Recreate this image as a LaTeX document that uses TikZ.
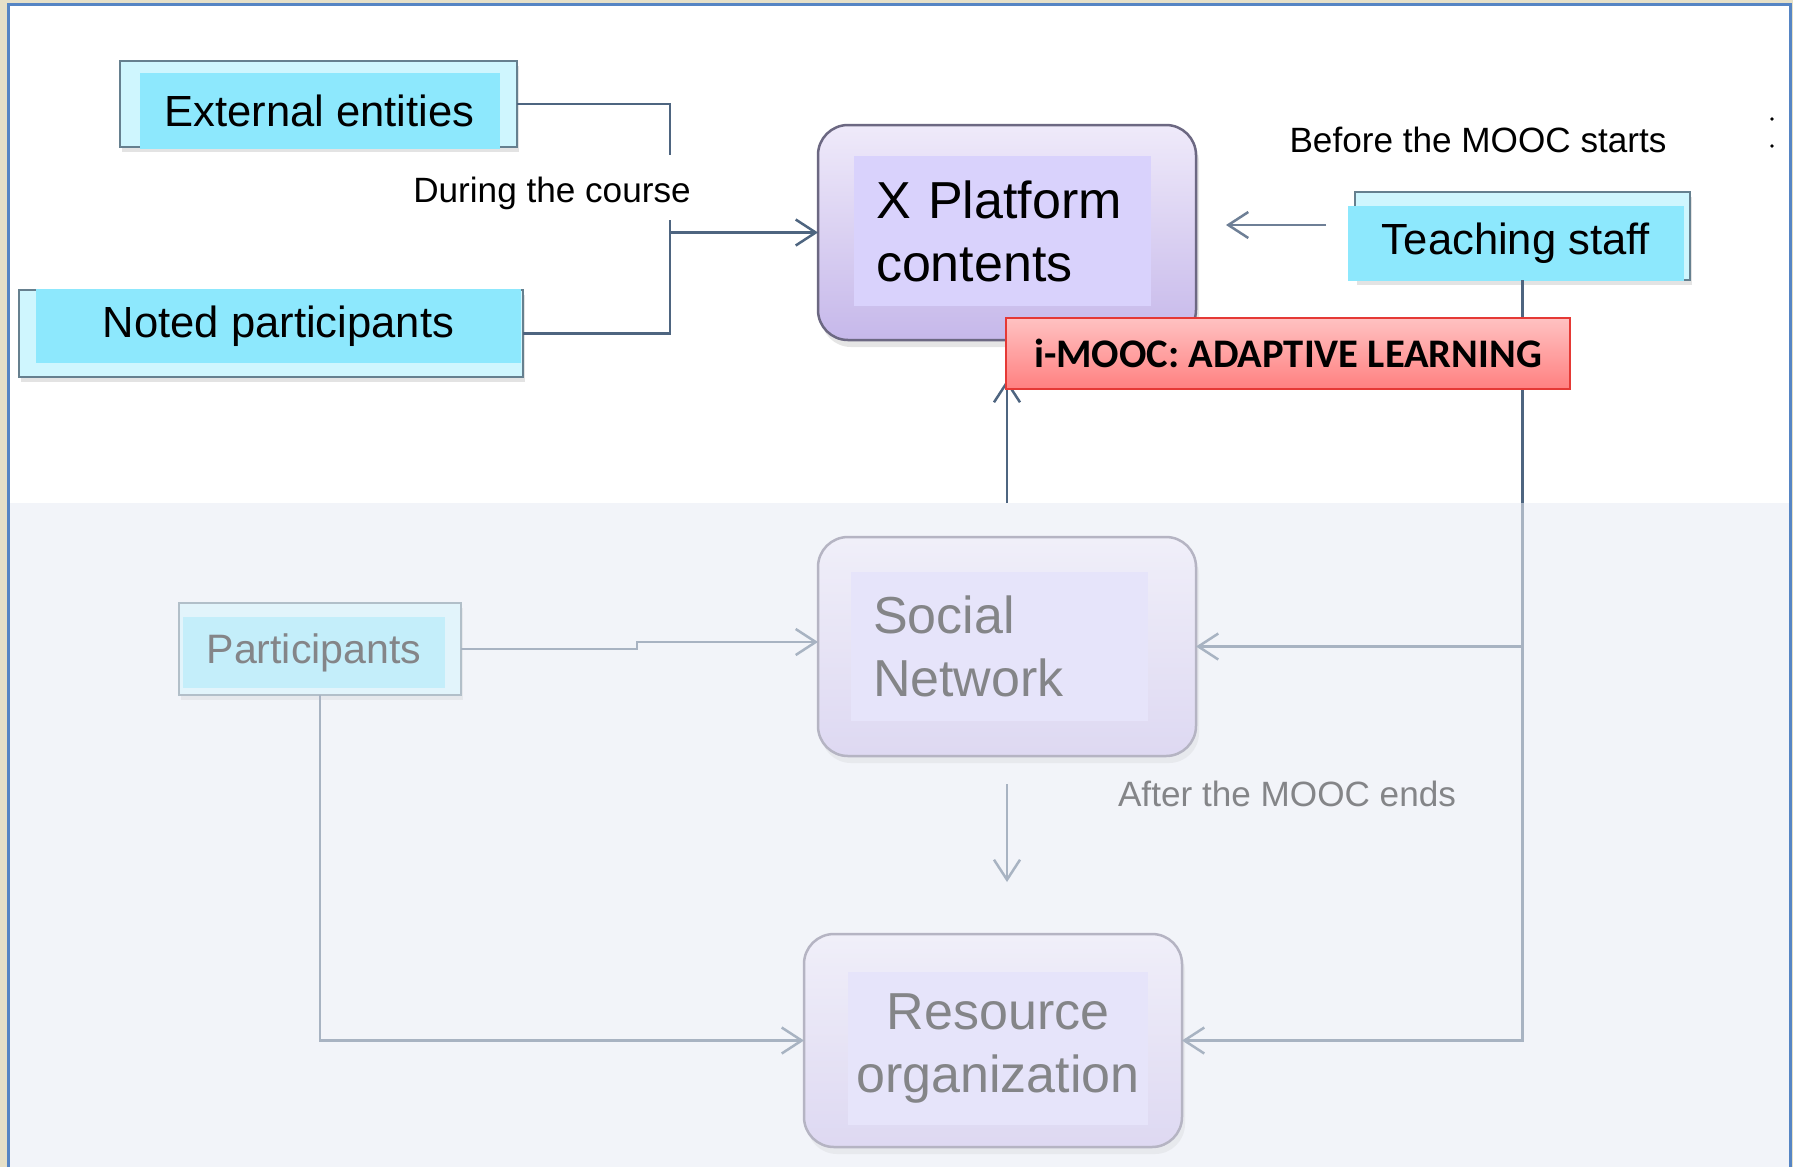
\documentclass[tikz,border=0pt]{standalone}
\usepackage{fontspec}
\setmainfont{Liberation Sans}
\newfontfamily\calib{Carlito}
\usetikzlibrary{arrows.meta,shadows}
\definecolor{beigec}{HTML}{E6E0C8}
\definecolor{framec}{HTML}{5685C4}
\definecolor{lowbg}{HTML}{F2F4F9}
\definecolor{cyanbox}{HTML}{8DE8FD}
\definecolor{cyanlight}{HTML}{CFF6FE}
\definecolor{slate}{HTML}{66808F}
\definecolor{connc}{HTML}{4E6580}
\definecolor{connlight}{HTML}{6E7F96}
\definecolor{lavtop}{HTML}{EFEAFA}
\definecolor{lavbot}{HTML}{C6B8EA}
\definecolor{lavin}{HTML}{D9D2FC}
\definecolor{lavline}{HTML}{6C6882}
\definecolor{redtop}{HTML}{FFC2C2}
\definecolor{redbot}{HTML}{FF8080}
\definecolor{redline}{HTML}{E53935}
\begin{document}
\begin{tikzpicture}[x=0.1mm,y=-0.1mm,
  every node/.style={inner sep=0pt, outer sep=0pt},
  cframe/.style={draw=slate, line width=0.25mm, fill=cyanlight,
    drop shadow={opacity=0.22, shadow xshift=0.2mm, shadow yshift=-0.5mm}},
  cyanfill/.style={fill=cyanbox, font=\fontsize{12.4}{15}\selectfont},
  lavbox/.style={rounded corners=3mm, draw=lavline, line width=0.25mm,
    top color=lavtop, bottom color=lavbot, minimum width=37.8mm,
    drop shadow={opacity=0.2, shadow xshift=0.3mm, shadow yshift=-0.7mm}},
  lavinner/.style={fill=lavin, minimum width=29.7mm, font=\fontsize{14.8}{17.93}\selectfont},
  conn/.style={draw=connc, line width=0.25mm},
  conntwo/.style={draw=connlight, line width=0.25mm},
  arr/.style={-{Straight Barb[length=2mm,width=2.6mm]}},
  lbl/.style={font=\fontsize{10}{12}\selectfont, anchor=base},
]
\useasboundingbox (0,0) rectangle (1793,1167);
% background
\fill[beigec] (0,0) rectangle (1793,1167);
\fill[white] (8.5,5) rectangle (1789.5,503);
\fill[lowbg] (8.5,503) rectangle (1789.5,1167);
\draw[framec, line width=0.3mm] (8.5,1167) -- (8.5,4.5) -- (1790,4.5) -- (1790,1167);

% cyan boxes
\node[cframe, minimum width=39.7mm, minimum height=8.6mm] (eeF) at (318.5,104) {};
\node[cyanfill, minimum width=36mm, minimum height=7.6mm] (ee) at (319.5,110.5) {External entities};
\node[cframe, minimum width=50.4mm, minimum height=8.7mm] (npF) at (271,333.5) {};
\node[cyanfill, minimum width=48.5mm, minimum height=7.4mm] (np) at (278.5,326) {Noted participants};
\node[cframe, minimum width=33.5mm, minimum height=8.8mm] (tsF) at (1522.5,236) {};
\node[cyanfill, minimum width=33.6mm, minimum height=7.5mm] (ts) at (1516,243.5) {Teaching staff};
\node[cframe, minimum width=28.2mm, minimum height=9.2mm] (pF) at (320,649) {};
\node[fill=cyanbox, minimum width=26.2mm, minimum height=7.1mm, font=\fontsize{11.7}{14}\selectfont] (p) at (314,652.5) {Participants};

% lavender boxes
\node[lavbox, minimum height=21.5mm] (xp) at (1007,232.5) {};
\node[lavinner, minimum height=15mm, text width=25.3mm, align=left] (xpt) at (1002.5,231) {X Platform\\contents};
\node[lavbox, minimum height=21.9mm] (sn) at (1007,646.5) {};
\node[lavinner, minimum height=14.9mm, text width=25.3mm, align=left] (snt) at (999.5,646.5) {Social\\Network};
\node[lavbox, minimum height=21.3mm] (ro) at (993,1040.5) {};
\node[lavinner, minimum width=30mm, minimum height=15.3mm, align=center] (rot) at (998,1048) {Resource\\organization};

% connectors
\coordinate (mid) at ([xshift=-14.8mm]xp.west);
\draw[conn] (eeF.east) -| (mid);
\draw[conn] (npF.east) -| (mid);
\draw[conn, arr] (mid) -- (xp.west);

\coordinate (tsa) at ([yshift=0.75mm]xp.east);
\draw[conntwo, arr, shorten <=2.2mm, shorten >=3mm] (tsa -| ts.west) -- (tsa);

\draw[conn, arr] (tsF.south) -- (tsF.south |- ro.east) -- (ro.east);
\draw[conn, arr] (tsF.south |- sn.east) -- (sn.east);

\coordinate (jog) at (637,642);
\draw[conn, arr] (pF.east) -- (pF.east -| jog) -- (jog) -- (jog -| sn.west);
\draw[conn, arr] (pF.south) |- (ro.west);

\draw[conn, arr, shorten <=3.4mm, shorten >=4mm] (sn.north) -- (xp.south);
\draw[conn, arr, shorten <=2.8mm, shorten >=5.2mm] (sn.south) -- (sn.south |- ro.north);

% i-MOOC banner
\node[draw=redline, line width=0.2mm, top color=redtop, bottom color=redbot,
  minimum width=56.4mm, minimum height=7.1mm,
  font=\calib\bfseries\fontsize{11.55}{14}\selectfont] (im) at (1288,353.5) {i-MOOC: ADAPTIVE LEARNING};

% labels
\node[lbl, fill=white, text height=4.7mm, text depth=1.8mm] (dur) at (552,202) {During the course};
\node[lbl] (bef) at (1478,152) {Before the MOOC starts};
\node[lbl] (aft) at (1287,806) {After the MOOC ends};

% stray marks at right
\fill (1772,119) circle (0.18mm);
\fill (1772,146) circle (0.18mm);

% fade of the lower part
\fill[lowbg, opacity=0.55] (10,503) rectangle (1788.5,1167);
\end{tikzpicture}
\end{document}
